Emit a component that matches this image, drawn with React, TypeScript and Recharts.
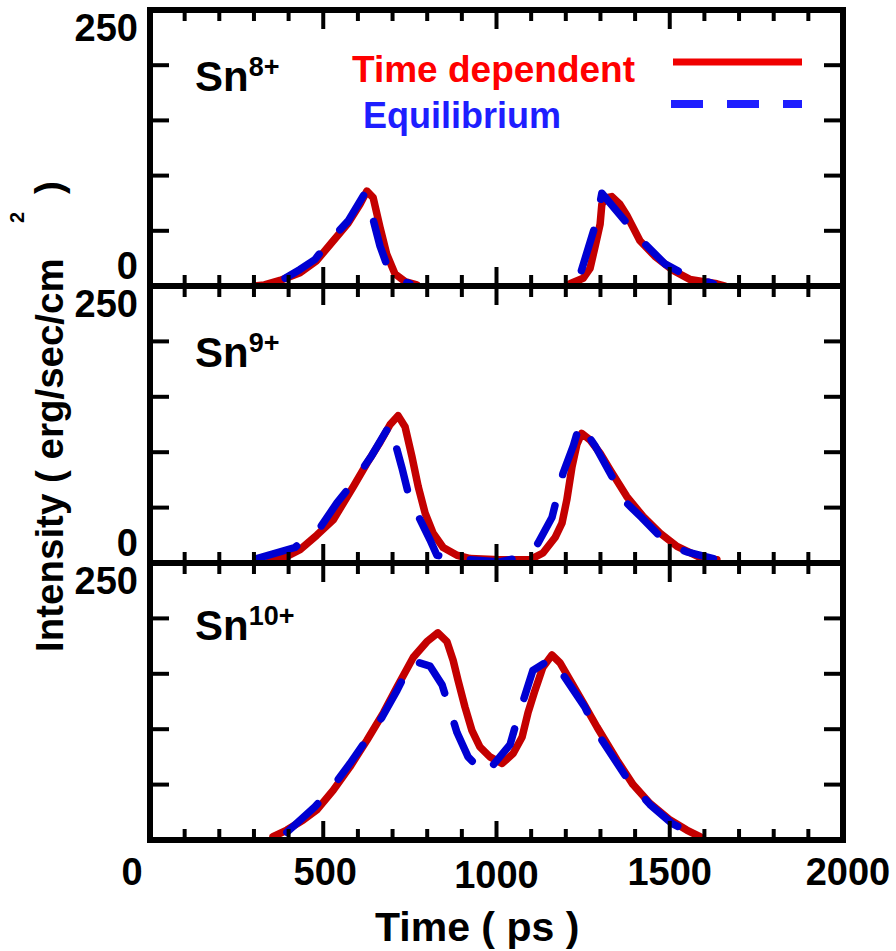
import React from "react";
import { LineChart, Line, XAxis, YAxis } from "recharts";

const FONT = '"Liberation Sans", Arial, Helvetica, sans-serif';
const RED = "#c40000";
const BLUE = "#0000d2";

// axis ticks (ps / intensity)
const xTicks = [0, 100, 200, 300, 400, 500, 600, 700, 800, 900, 1000, 1100, 1200, 1300, 1400, 1500, 1600, 1700, 1800, 1900, 2000];
const xLabels = [0, 500, 1000, 1500, 2000];
const yTicks = [0, 50, 100, 150, 200, 250];

const ions = ["8+", "9+", "10+"];

// Sn8+  time dependent
const sn8TdTime = [300, 330, 375, 433, 481, 529, 572, 606, 626, 644, 664, 683, 707, 736, 770, 1000, 1212, 1250, 1270, 1284, 1299, 1304, 1318, 1333, 1356, 1376, 1414, 1457, 1510, 1558, 1636, 1660];
const sn8TdInt = [0, 1, 5, 12, 23, 41, 57, 74, 86, 80, 53, 29, 11, 4, 1, null, 2, 7, 16, 35, 56, 74, 80, 81, 74, 64, 41, 27, 14, 6, 2, 0];
// Sn8+  equilibrium
const sn8EqTime = [390, 433, 476, 519, 572, 620, 645, 664, 693, 711, 750, 1000, 1245, 1289, 1304, 1419, 1486, 1539, 1626];
const sn8EqInt = [7, 15, 24, 41, 59, 84, 59, 36, 11, 7, 2, null, 14, 59, 84, 41, 20, 11, 2];

// Sn9+  time dependent
const sn9TdTime = [346, 395, 433, 481, 529, 587, 626, 664, 693, 716, 736, 756, 774, 794, 817, 846, 886, 924, 1010, 1097, 1134, 1169, 1189, 1203, 1218, 1232, 1246, 1270, 1299, 1328, 1376, 1423, 1472, 1521, 1587, 1636];
const sn9TdInt = [3, 6, 12, 25, 39, 69, 90, 109, 125, 133, 123, 96, 69, 45, 27, 14, 7, 4, 3, 3, 9, 23, 36, 57, 87, 107, 117, 111, 99, 84, 60, 42, 27, 15, 5, 3];
// Sn9+  equilibrium
const sn9EqTime = [308, 418, 491, 539, 592, 640, 693, 707, 727, 750, 770, 808, 828, 875, 924, 1010, 1068, 1102, 1120, 1160, 1192, 1222, 1241, 1284, 1328, 1376, 1419, 1491, 1549, 1626];
const sn9EqInt = [4, 14, 32, 54, 75, 97, 125, 109, 86, 57, 45, 21, 7, 4, 3, 1, 5, 9, 18, 41, 81, 106, 126, 106, 81, 54, 41, 18, 10, 4];

// Sn10+ time dependent
const sn10TdTime = [355, 395, 442, 481, 529, 577, 626, 674, 713, 760, 799, 831, 857, 875, 889, 909, 929, 952, 981, 1016, 1048, 1074, 1091, 1111, 1134, 1160, 1183, 1250, 1290, 1348, 1394, 1443, 1501, 1549, 1587];
const sn10TdInt = [3, 9, 18, 27, 45, 66, 90, 115, 138, 165, 179, 187, 179, 162, 144, 120, 99, 84, 75, 69, 78, 93, 115, 135, 156, 167, 160, 124, 102, 72, 50, 33, 18, 9, 3];
// Sn10+ equilibrium
const sn10EqTime = [395, 476, 525, 577, 670, 713, 756, 808, 843, 886, 918, 967, 1039, 1062, 1105, 1160, 1255, 1290, 1380, 1443, 1506, 1582];
const sn10EqInt = [7, 30, 47, 69, 111, 135, 162, 157, 140, 97, 75, 59, 86, 111, 153, 164, 120, 97, 54, 32, 15, 3];

const zip = (ts: number[], vs: (number | null)[]) => ts.map((t, i) => ({ t, v: vs[i] }));

const W = 896;
const H = 951;
const LEFT = 150;
const RIGHT = 843;

const frame = { stroke: "#000", strokeWidth: 6, strokeLinecap: "square" as const };
const tickText = { fontFamily: FONT, fontWeight: "bold" as const, fontSize: 38, fill: "#000" };

const bottomTick = (labels: boolean) => (p: any) => {
  const v = p.payload.value;
  const major = xLabels.includes(v);
  const dx = v === 0 ? -18 : v === 2000 ? 5 : v === 500 ? 2 : 0;
  const dy = v === 1000 ? 3 : 0;
  return (
    <g>
      {v > 0 && v < 2000 && (
        <line x1={p.x} x2={p.x} y1={p.y} y2={p.y - (major ? 19 : 11)} stroke="#000" strokeWidth={4} />
      )}
      {labels && major && (
        <text x={p.x + dx} y={p.y + 45 + dy} textAnchor="middle" {...tickText}>
          {v}
        </text>
      )}
    </g>
  );
};

const topTick = (p: any) => {
  const v = p.payload.value;
  if (v <= 0 || v >= 2000) return <g />;
  const major = xLabels.includes(v);
  return <line x1={p.x} x2={p.x} y1={p.y} y2={p.y + (major ? 19 : 11)} stroke="#000" strokeWidth={4} />;
};

const leftTick = (showZero: boolean) => (p: any) => {
  const v = p.payload.value;
  return (
    <g>
      {v > 0 && v < 250 && <line x1={p.x} x2={p.x + 19} y1={p.y} y2={p.y} stroke="#000" strokeWidth={4} />}
      {v === 250 && (
        <text x={p.x - 12} y={p.y + 31} textAnchor="end" {...tickText}>
          250
        </text>
      )}
      {v === 0 && showZero && (
        <text x={p.x - 12} y={p.y - 7} textAnchor="end" {...tickText}>
          0
        </text>
      )}
    </g>
  );
};

const rightTick = (p: any) => {
  const v = p.payload.value;
  if (v <= 0 || v >= 250) return <g />;
  return <line x1={p.x} x2={p.x - 19} y1={p.y} y2={p.y} stroke="#000" strokeWidth={4} />;
};

type Pt = { t: number; v: number | null };
type PanelProps = {
  top: number;
  bottom: number;
  td: Pt[];
  eq: Pt[];
  xLabelsOn: boolean;
  zeroLabel: boolean;
};

function Panel({ top, bottom, td, eq, xLabelsOn, zeroLabel }: PanelProps) {
  return (
    <div style={{ position: "absolute", left: 0, top: 0 }}>
      <LineChart
        width={W}
        height={H}
        margin={{ top: top - 10, bottom: H - bottom - 10, left: LEFT - 60, right: W - RIGHT - 40 }}
      >
        <XAxis
          xAxisId="b"
          dataKey="t"
          type="number"
          domain={[0, 2000]}
          allowDataOverflow
          ticks={xTicks}
          interval={0}
          orientation="bottom"
          height={10}
          tickSize={0}
          tickMargin={0}
          tickLine={false}
          axisLine={frame}
          tick={bottomTick(xLabelsOn)}
        />
        <XAxis
          xAxisId="t"
          dataKey="t"
          type="number"
          domain={[0, 2000]}
          allowDataOverflow
          ticks={xTicks}
          interval={0}
          orientation="top"
          height={10}
          tickSize={0}
          tickMargin={0}
          tickLine={false}
          axisLine={frame}
          tick={topTick}
        />
        <YAxis
          yAxisId="l"
          type="number"
          domain={[0, 250]}
          allowDataOverflow
          ticks={yTicks}
          interval={0}
          orientation="left"
          width={60}
          tickSize={0}
          tickMargin={0}
          tickLine={false}
          axisLine={frame}
          tick={leftTick(zeroLabel)}
        />
        <YAxis
          yAxisId="r"
          type="number"
          domain={[0, 250]}
          allowDataOverflow
          ticks={yTicks}
          interval={0}
          orientation="right"
          width={40}
          tickSize={0}
          tickMargin={0}
          tickLine={false}
          axisLine={frame}
          tick={rightTick}
        />
        {/* invisible series so the top / right axes get their scales */}
        <Line
          xAxisId="t"
          yAxisId="r"
          data={td}
          dataKey="v"
          stroke="none"
          dot={false}
          activeDot={false}
          isAnimationActive={false}
        />
        <Line
          xAxisId="b"
          yAxisId="l"
          data={td}
          dataKey="v"
          type="linear"
          stroke={RED}
          strokeWidth={7.5}
          strokeLinejoin="round"
          strokeLinecap="round"
          dot={false}
          activeDot={false}
          isAnimationActive={false}
        />
        <Line
          xAxisId="b"
          yAxisId="l"
          data={eq}
          dataKey="v"
          type="linear"
          stroke={BLUE}
          strokeWidth={7.5}
          strokeDasharray="42 32"
          strokeLinejoin="round"
          strokeLinecap="round"
          dot={false}
          activeDot={false}
          isAnimationActive={false}
        />
      </LineChart>
    </div>
  );
}

const boldText = { fontFamily: FONT, fontWeight: "bold" as const };

export default function App() {
  const panels = [
    { top: 10, bottom: 286, labelY: 91, td: zip(sn8TdTime, sn8TdInt), eq: zip(sn8EqTime, sn8EqInt), xLabelsOn: false, zeroLabel: true },
    { top: 286, bottom: 563, labelY: 367, td: zip(sn9TdTime, sn9TdInt), eq: zip(sn9EqTime, sn9EqInt), xLabelsOn: false, zeroLabel: true },
    { top: 563, bottom: 840, labelY: 640, td: zip(sn10TdTime, sn10TdInt), eq: zip(sn10EqTime, sn10EqInt), xLabelsOn: true, zeroLabel: false },
  ];
  return (
    <div style={{ position: "absolute", left: 0, top: 0, width: W, height: H, background: "#fff" }}>
      {panels.map((p, i) => (
        <Panel key={i} {...p} />
      ))}
      <svg width={W} height={H} style={{ position: "absolute", left: 0, top: 0, pointerEvents: "none" }}>
        <defs>
          <linearGradient id="edge" x1="0" y1="0" x2="1" y2="0">
            <stop offset="0%" stopColor="#00c8f4" />
            <stop offset="100%" stopColor="#006c84" />
          </linearGradient>
        </defs>
        {panels.map((p, i) => (
          <text key={i} x={195} y={p.labelY} fontSize={42} fill="#000" {...boldText}>
            Sn
            <tspan dx={0} dy={-15} fontSize={27}>
              {ions[i]}
            </tspan>
          </text>
        ))}
        {/* legend */}
        <text x={352} y={82} fontSize={37} fill="#ff0000" {...boldText}>
          Time dependent
        </text>
        <text x={363} y={128} fontSize={36} fill="#1e1eff" {...boldText}>
          Equilibrium
        </text>
        <line x1={673} x2={802} y1={62} y2={62} stroke="#f00000" strokeWidth={7} />
        <line x1={671} x2={802} y1={104} y2={104} stroke="#1e1eff" strokeWidth={8} strokeDasharray="32 24" />
        {/* axis titles */}
        <text x={375} y={941} fontSize={41} fill="#000" {...boldText}>
          Time ( ps )
        </text>
        <text transform="translate(63,652) rotate(-90)" fontSize={38.5} fill="#000" {...boldText}>
          Intensity ( erg/sec/cm
        </text>
        <text transform="translate(24,223) rotate(-90)" fontSize={20} fill="#000" {...boldText}>
          2
        </text>
        <text transform="translate(62,194) rotate(-90)" fontSize={38.5} fill="#000" {...boldText}>
          )
        </text>
        <line x1={0} x2={W} y1={950} y2={950} stroke="url(#edge)" strokeWidth={2} />
      </svg>
    </div>
  );
}
